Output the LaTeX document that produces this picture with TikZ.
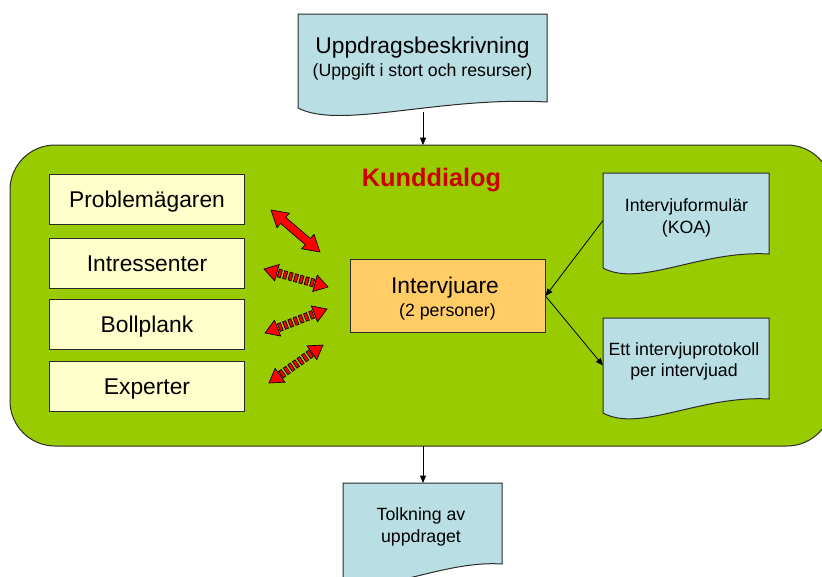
\documentclass[tikz,border=0pt]{standalone}
\usepackage{fontspec}
\setmainfont{Liberation Sans}
\usetikzlibrary{arrows.meta,decorations.markings}

\definecolor{panelgreen}{HTML}{99CC00}
\definecolor{docblue}{HTML}{B9DFE4}
\definecolor{noteyellow}{HTML}{FFFFCC}
\definecolor{roleorange}{HTML}{FFCC66}
\definecolor{titlered}{HTML}{CC0000}
\definecolor{edgegray}{HTML}{2B2B2B}

\newcommand\bigtext{\fontsize{17.1pt}{20pt}\selectfont}
\newcommand\smalltext{\fontsize{13.3pt}{16pt}\selectfont}
\newcommand\headtext{\fontsize{19pt}{22pt}\selectfont\bfseries}

% double-headed block arrows, drawn in the frame of the path they decorate
\newcommand\solidbiarrowshape{%
  \pgfmathsetmacro\biarrowlen{\pgfdecoratedpathlength/0.75}%
  \draw[biarrow] (0,0) -- (16,9.5) -- (16,4) -- (\biarrowlen-16,4)
    -- (\biarrowlen-16,9.5) -- (\biarrowlen,0) -- (\biarrowlen-16,-9.5)
    -- (\biarrowlen-16,-4) -- (16,-4) -- (16,-9.5) -- cycle;}
\newcommand\stripedbiarrowshape{%
  \pgfmathsetmacro\biarrowlen{\pgfdecoratedpathlength/0.75}%
  \draw[biarrow] (0,0) -- (13.5,8.5) -- (13.5,-8.5) -- cycle;
  \draw[biarrow] (\biarrowlen,0) -- (\biarrowlen-13.5,8.5) -- (\biarrowlen-13.5,-8.5) -- cycle;
  \foreach \k in {-3,...,3}{%
    \draw[biarrow] (\biarrowlen/2+\k*5.6-1.6,-4) rectangle ++(3.2,8);}}

\begin{document}
\begin{tikzpicture}[x=0.75pt,y=-0.75pt,
  outline/.style={draw=edgegray, line width=0.75pt},
  panel/.style={outline, fill=panelgreen, rounded corners=33.75pt},
  docshape/.style={outline, fill=docblue},
  region/.style={inner sep=0pt, outer sep=0pt},
  rolebox/.style={outline, fill=noteyellow, minimum width=146.25pt,
    minimum height=37.5pt, inner sep=0pt, font=\bigtext,
    text height=12.2pt, text depth=0pt},
  interviewer/.style={outline, fill=roleorange, minimum width=146.25pt,
    minimum height=54.75pt, inner sep=0pt},
  line/.style={anchor=base, inner sep=0pt},
  flow/.style={draw=black, line width=0.6pt, -{Triangle[length=5.5pt,width=4.5pt]}},
  biarrow/.style={fill=red, draw=black, line width=0.5pt, x=0.75pt, y=0.75pt},
  solidbi/.style={decoration={markings, mark=at position 0 with {\solidbiarrowshape}}, decorate},
  stripedbi/.style={decoration={markings, mark=at position 0 with {\stripedbiarrowshape}}, decorate}]

\useasboundingbox (0,0) rectangle (822,576);
\clip (0,0) rectangle (822,576);

% green dialogue panel
\node[panel, region, anchor=north west, minimum width=616.5pt, minimum height=225.75pt]
  (panel) at (10,145) {};
\node[line, font=\headtext, text=titlered] (paneltitle) at (431.5,186) {Kunddialog};

% document shapes with a wavy lower edge
\draw[docshape] (298,14) -- (547,14) -- (547,102)
  .. controls (440,96) and (340,130) .. (298,108) -- cycle;
\node[region, minimum width=186.75pt, minimum height=70.5pt] (brief) at (422.5,61) {};
\node[line, font=\bigtext] (brief1) at (422.5,53) {Uppdragsbeskrivning};
\node[line, font=\smalltext] (brief2) at (422.5,76) {(Uppgift i stort och resurser)};

\draw[docshape] (603,173) -- (769,173) -- (769,254)
  .. controls (700,250) and (640,288) .. (603,268) -- cycle;
\node[region, minimum width=124.5pt, minimum height=71.25pt] (form) at (686,220.5) {};
\node[line, font=\smalltext] (form1) at (686.5,211) {Intervjuformulär};
\node[line, font=\smalltext] (form2) at (686.5,233) {(KOA)};

\draw[docshape] (603,318) -- (769,318) -- (769,399)
  .. controls (700,395) and (640,433) .. (603,413) -- cycle;
\node[region, minimum width=124.5pt, minimum height=71.25pt] (record) at (686,365.5) {};
\node[line, font=\smalltext] (record1) at (684,355) {Ett intervjuprotokoll};
\node[line, font=\smalltext] (record2) at (684,376) {per intervjuad};

\draw[docshape] (343,483) -- (502,483) -- (502,564)
  .. controls (440,560) and (380,598) .. (343,578) -- cycle;
\node[region, minimum width=119.25pt, minimum height=71.25pt] (reading) at (422.5,530.5) {};
\node[line, font=\smalltext] (reading1) at (421,520) {Tolkning av};
\node[line, font=\smalltext] (reading2) at (421,542) {uppdraget};

% stakeholders
\node[rolebox] (owner)   at (147,199)   {Problemägaren};
\node[rolebox] (interest) at (147,263)  {Intressenter};
\node[rolebox] (sounding) at (147,324.5) {Bollplank};
\node[rolebox] (experts) at (147,386)   {Experter};

% interviewers
\node[interviewer] (interviewer) at (447.5,296) {};
\node[line, font=\bigtext] (interviewer1) at (445,293) {Intervjuare};
\node[line, font=\smalltext] (interviewer2) at (447.5,316) {(2 personer)};

% flow connectors
\coordinate (brieftail) at (423,112);
\draw[flow] (brieftail) -- (brieftail |- panel.north);
\coordinate (panelexit) at (423,446);
\draw[flow] (panelexit) -- (panelexit |- reading.north);
\draw[flow] (form.west) -- (interviewer.east);
\draw[flow] (interviewer.east) -- (record.west);

% dialogue arrows between stakeholders and interviewers
\coordinate (ownerA) at (271,210);     \coordinate (ownerB) at (320,252);
\coordinate (interestA) at (264,269);  \coordinate (interestB) at (328,287);
\coordinate (soundingA) at (265,333);  \coordinate (soundingB) at (327,309);
\coordinate (expertsA) at (269,383);   \coordinate (expertsB) at (323,345);
\path[solidbi] (ownerA) -- (ownerB);
\path[stripedbi] (interestA) -- (interestB);
\path[stripedbi] (soundingA) -- (soundingB);
\path[stripedbi] (expertsA) -- (expertsB);
\end{tikzpicture}
\end{document}
